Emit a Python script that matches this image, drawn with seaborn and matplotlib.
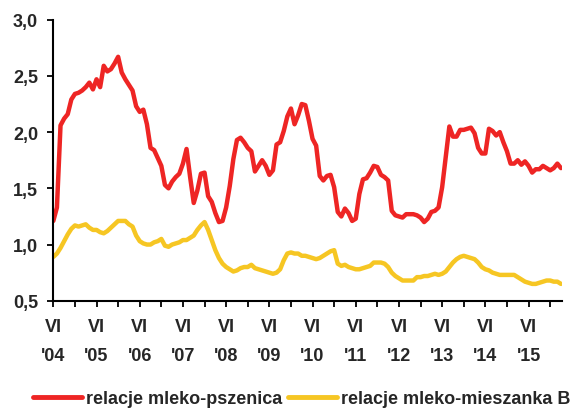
import pandas as pd
import seaborn as sns
import matplotlib.pyplot as plt

# Monthly relations, June 2004 .. March 2016
start_month = '2004-06'
mleko_pszenica = [
    1.21, 1.33, 2.06, 2.12, 2.16, 2.29, 2.34, 2.35, 2.37, 2.40, 2.44, 2.38,
    2.47, 2.40, 2.59, 2.54, 2.56, 2.61, 2.67, 2.53, 2.47, 2.42, 2.37, 2.23,
    2.18, 2.20, 2.07, 1.86, 1.84, 1.77, 1.70, 1.53, 1.50, 1.56, 1.60, 1.63,
    1.72, 1.85, 1.60, 1.37, 1.48, 1.63, 1.64, 1.43, 1.38, 1.28, 1.20, 1.21,
    1.33, 1.52, 1.76, 1.93, 1.95, 1.91, 1.86, 1.83, 1.65, 1.70, 1.75, 1.70,
    1.62, 1.66, 1.89, 1.91, 2.01, 2.14, 2.21, 2.07, 2.15, 2.25, 2.24, 2.10,
    1.94, 1.88, 1.61, 1.57, 1.61, 1.62, 1.51, 1.29, 1.25, 1.32, 1.28, 1.21,
    1.23, 1.45, 1.58, 1.59, 1.64, 1.70, 1.69, 1.62, 1.60, 1.57, 1.30, 1.26,
    1.25, 1.24, 1.27, 1.27, 1.27, 1.26, 1.24, 1.20, 1.23, 1.29, 1.30, 1.33,
    1.51, 1.78, 2.05, 1.96, 1.96, 2.02, 2.02, 2.03, 2.04, 1.99, 1.86, 1.81,
    1.81, 2.03, 2.01, 1.97, 2.00, 1.91, 1.83, 1.72, 1.72, 1.75, 1.71, 1.74,
    1.70, 1.64, 1.67, 1.67, 1.70, 1.68, 1.66, 1.68, 1.72, 1.68,
]
mleko_mieszanka = [
    0.89, 0.92, 0.97, 1.03, 1.09, 1.14, 1.17, 1.16, 1.17, 1.18, 1.15, 1.13,
    1.13, 1.11, 1.10, 1.12, 1.15, 1.18, 1.21, 1.21, 1.21, 1.18, 1.16, 1.08,
    1.03, 1.01, 1.00, 1.00, 1.02, 1.03, 1.05, 0.99, 0.98, 1.00, 1.01, 1.02,
    1.04, 1.04, 1.06, 1.08, 1.13, 1.17, 1.20, 1.13, 1.04, 0.95, 0.88, 0.83,
    0.80, 0.78, 0.76, 0.77, 0.79, 0.80, 0.80, 0.82, 0.79, 0.78, 0.77, 0.76,
    0.75, 0.74, 0.75, 0.78, 0.86, 0.92, 0.93, 0.92, 0.92, 0.90, 0.90, 0.89,
    0.88, 0.87, 0.88, 0.90, 0.92, 0.94, 0.95, 0.83, 0.81, 0.82, 0.80, 0.79,
    0.78, 0.78, 0.79, 0.80, 0.81, 0.84, 0.84, 0.84, 0.83, 0.80, 0.75, 0.72,
    0.70, 0.68, 0.68, 0.68, 0.68, 0.71, 0.71, 0.72, 0.72, 0.73, 0.74, 0.73,
    0.74, 0.76, 0.80, 0.84, 0.87, 0.89, 0.90, 0.89, 0.88, 0.87, 0.84, 0.80,
    0.78, 0.77, 0.75, 0.74, 0.73, 0.73, 0.73, 0.73, 0.73, 0.71, 0.69, 0.67,
    0.66, 0.65, 0.65, 0.66, 0.67, 0.68, 0.68, 0.67, 0.67, 0.65,
]
series_names = ['relacje mleko-pszenica', 'relacje mleko-mieszanka B']
year_labels = ["VI\n'04", "VI\n'05", "VI\n'06", "VI\n'07", "VI\n'08", "VI\n'09",
               "VI\n'10", "VI\n'11", "VI\n'12", "VI\n'13", "VI\n'14", "VI\n'15"]
y_ticks = [0.5, 1.0, 1.5, 2.0, 2.5, 3.0]
y_tick_labels = ['0,5', '1,0', '1,5', '2,0', '2,5', '3,0']

sns.set_style('white')
plt.rcParams['font.family'] = ['Liberation Sans', 'DejaVu Sans']
plt.rcParams['font.weight'] = 'bold'

# long format for seaborn, x = months since June 2004
n = len(mleko_pszenica)
df = pd.DataFrame({
    'month': list(range(n)) * 2,
    'value': mleko_pszenica + mleko_mieszanka,
    'series': [series_names[0]] * n + [series_names[1]] * n,
})

fig = plt.figure(figsize=(5.86, 4.10), dpi=100)
ax = fig.add_axes([0.091, 0.264, 0.8675, 0.6855])

colors = {series_names[0]: '#ee2524', series_names[1]: '#f6c623'}
sns.lineplot(data=df, x='month', y='value', hue='series', palette=colors,
             linewidth=3.2, ax=ax, legend=False)

ax.set_xlim(0, 141.2)
ax.set_ylim(0.5, 3.0)
ax.set_xticks(range(0, 12 * len(year_labels), 12))
ax.set_xticklabels(year_labels, fontsize=13, fontweight='bold', linespacing=1.95)
ax.set_xticks(range(6, n, 12), minor=True)
ax.set_yticks(y_ticks)
ax.set_yticklabels(y_tick_labels, fontsize=13, fontweight='bold')
ax.tick_params(axis='both', which='both', direction='out', length=4.5, width=1.3,
               color='black', bottom=True, left=True)
ax.tick_params(axis='x', which='major', pad=8)
ax.tick_params(axis='y', pad=6.5)
ax.set_xlabel('')
ax.set_ylabel('')
for side in ['top', 'right']:
    ax.spines[side].set_visible(False)
for side in ['left', 'bottom']:
    ax.spines[side].set_color('black')
    ax.spines[side].set_linewidth(1.5)

handles = [plt.Line2D([], [], color=colors[s], linewidth=3.5) for s in series_names]
fig.legend(handles, series_names, loc='lower center', bbox_to_anchor=(0.515, -0.035),
           ncol=2, frameon=False, handlelength=2.7, handletextpad=0.25,
           columnspacing=0.3, prop={'size': 13, 'weight': 'bold'})

fig.savefig('out.png', dpi=100)
